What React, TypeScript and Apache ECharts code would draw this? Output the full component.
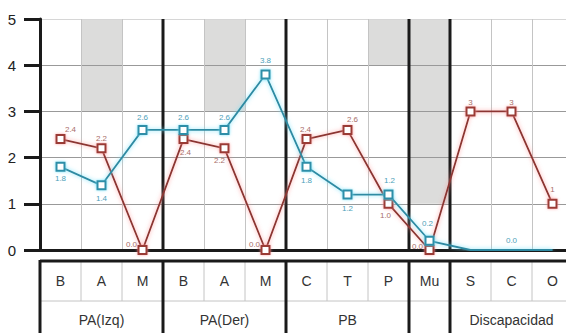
import React, { useEffect, useRef } from 'react';
import * as echarts from 'echarts';

const categories = ['B', 'A', 'M', 'B', 'A', 'M', 'C', 'T', 'P', 'Mu', 'S', 'C', 'O'];
const groupNames = ['PA(Izq)', 'PA(Der)', 'PB', '', 'Discapacidad'];
const groupSpans = [3, 3, 3, 1, 3];
const yTicks = [0, 1, 2, 3, 4, 5];
const redValues = [2.4, 2.2, 0, 2.4, 2.2, 0, 2.4, 2.6, 1.0, 0, 3, 3, 1];
const redLabels = ['2.4', '2.2', '0.0', '2.4', '2.2', '0.0', '2.4', '2.6', '1.0', '0.0', '3', '3', '1'];
const blueValues = [1.8, 1.4, 2.6, 2.6, 2.6, 3.8, 1.8, 1.2, 1.2, 0.2, 0, 0, 0];
const blueLabels = ['1.8', '1.4', '2.6', '2.6', '2.6', '3.8', '1.8', '1.2', '1.2', '0.2', '', '0.0', ''];
const shadedCols = [1, 4, 8, 9];
const shadedFrom = [3, 3, 4, 1];
const shadedTo = [5, 5, 5, 5];

// styling: label offsets relative to the marker centre
const redOffsets = [[10, -10], [0, -10], [-11, -6], [2, 13], [-5, 12], [-11, -6], [-1, -10], [5, -10], [-3, 12], [-12, -4], [0, -9], [0, -9], [0, -14]];
const blueOffsets = [[0, 12], [0, 13], [0, -12], [0, -12], [0, -12], [0, -14], [0, 14], [0, 14], [1, -14], [-2, -17], [0, 0], [0, -10], [0, 0]];
const blueHidden = [false, false, false, false, false, false, false, false, false, false, true, true, true];

const FONT = '"Liberation Sans", Arial, sans-serif';

export default function App() {
  const ref = useRef<HTMLDivElement>(null);
  useEffect(() => {
    if (!ref.current) return;
    const chart = echarts.init(ref.current, null, { renderer: 'svg' });
    const axisKeys = categories.map((c, i) => i + '_' + c);
    const groupData: number[][] = [];
    let s = 0;
    groupSpans.forEach((sp, gi) => {
      groupData.push([s, 0, s + sp, gi]);
      s += sp;
    });
    const groupStarts = groupData.map((g) => g[0]);
    const yMax = yTicks[yTicks.length - 1];

    const option: any = {
      animation: false,
      backgroundColor: '#ffffff',
      grid: { left: 40, top: 19, width: 533, height: 231, containLabel: false },
      xAxis: {
        type: 'category',
        data: axisKeys,
        boundaryGap: true,
        axisLine: { show: true, lineStyle: { color: '#1a1a1a', width: 3 } },
        axisTick: { show: false },
        axisLabel: { show: false },
        splitLine: { show: true, interval: 0, lineStyle: { color: '#c4c4c4', width: 1 } },
      },
      yAxis: {
        type: 'value',
        min: yTicks[0],
        max: yMax,
        interval: 1,
        axisLine: { show: true, lineStyle: { color: '#1a1a1a', width: 3 } },
        axisTick: { show: true, length: 16, lineStyle: { color: '#1a1a1a', width: 3 } },
        axisLabel: { show: true, margin: 24, fontSize: 15, color: '#222', fontFamily: FONT, padding: [0, 0, 7, 0] },
        splitLine: { show: true, lineStyle: { color: ['#999', '#999', '#999', '#999', '#999', '#d6d6d6'], width: 1 } },
      },
      series: [
        {
          type: 'custom',
          z: -1,
          clip: false,
          silent: true,
          data: shadedCols.map((c, i) => [c, shadedFrom[i], shadedTo[i]]),
          renderItem: (params: any, api: any) => {
            const idx = api.value(0);
            const p0 = api.coord([idx, api.value(2)]);
            const p1 = api.coord([idx, api.value(1)]);
            const bw = api.size([1, 0])[0];
            return {
              type: 'rect',
              shape: { x: p0[0] - bw / 2, y: p0[1], width: bw, height: p1[1] - p0[1] },
              style: { fill: '#dcdcdb' },
            };
          },
        },
        {
          type: 'custom',
          z: 3,
          clip: false,
          silent: true,
          data: categories.map((c, i) => [i, 0]),
          renderItem: (params: any, api: any) => {
            const idx = api.value(0);
            const p = api.coord([idx, 0]);
            const bw = api.size([1, 0])[0];
            const x0 = p[0] - bw / 2;
            const yb = p[1];
            const children: any[] = [
              {
                type: 'text',
                style: {
                  text: categories[params.dataIndex],
                  x: p[0],
                  y: yb + 31,
                  align: 'center',
                  verticalAlign: 'middle',
                  fontSize: 14,
                  fontFamily: FONT,
                  fill: '#333',
                },
              },
            ];
            if (groupStarts.indexOf(idx) < 0) {
              children.push({
                type: 'line',
                shape: { x1: x0, y1: yb + 11, x2: x0, y2: yb + 51 },
                style: { stroke: '#c4c4c4', lineWidth: 1 },
              });
            }
            return { type: 'group', children };
          },
        },
        {
          type: 'custom',
          z: 4,
          clip: false,
          silent: true,
          data: groupData,
          renderItem: (params: any, api: any) => {
            const st = api.value(0);
            const en = api.value(2);
            const bw = api.size([1, 0])[0];
            const pa = api.coord([st, 0]);
            const pb = api.coord([en - 1, 0]);
            const top = api.coord([st, yMax])[1];
            const x0 = pa[0] - bw / 2;
            const x1 = pb[0] + bw / 2;
            const yb = pa[1];
            const children: any[] = [
              {
                type: 'line',
                shape: { x1: x0, y1: yb + 11, x2: x1, y2: yb + 11 },
                style: { stroke: '#1a1a1a', lineWidth: 3 },
              },
              {
                type: 'line',
                shape: { x1: x0, y1: yb + 51, x2: x1, y2: yb + 51 },
                style: { stroke: '#c4c4c4', lineWidth: 1 },
              },
              {
                type: 'line',
                shape: { x1: x0, y1: yb + 10, x2: x0, y2: yb + 100 },
                style: { stroke: '#1a1a1a', lineWidth: 3 },
              },
              {
                type: 'text',
                style: {
                  text: groupNames[params.dataIndex],
                  x: (x0 + x1) / 2,
                  y: yb + 70,
                  align: 'center',
                  verticalAlign: 'middle',
                  fontSize: 14,
                  fontFamily: FONT,
                  fill: '#333',
                },
              },
            ];
            if (st > 0) {
              children.push({
                type: 'line',
                shape: { x1: x0, y1: top, x2: x0, y2: yb },
                style: { stroke: '#1a1a1a', lineWidth: 3 },
              });
            }
            return { type: 'group', children };
          },
        },
        {
          type: 'line',
          z: 5,
          symbol: 'emptyRect',
          symbolSize: 8,
          lineStyle: { color: '#8b3631', width: 1.8, shadowColor: 'rgba(255,140,140,0.8)', shadowBlur: 4 },
          itemStyle: { color: '#9a3a34', borderWidth: 1.5, shadowColor: 'rgba(255,140,140,0.8)', shadowBlur: 3 },
          label: { show: true, position: 'inside', fontSize: 8, color: '#a86e69', fontFamily: FONT },
          data: redValues.map((v, i) => ({
            value: v,
            label: { formatter: redLabels[i], offset: redOffsets[i] },
          })),
        },
        {
          type: 'line',
          z: 6,
          symbol: 'emptyRect',
          symbolSize: 8,
          lineStyle: { color: '#2e8aa2', width: 1.8, shadowColor: 'rgba(110,225,250,0.9)', shadowBlur: 4 },
          itemStyle: { color: '#2e8ea8', borderWidth: 1.5, shadowColor: 'rgba(110,225,250,0.9)', shadowBlur: 3 },
          label: { show: true, position: 'inside', fontSize: 8, color: '#4e9fba', fontFamily: FONT },
          data: blueValues.map((v, i) => ({
            value: v,
            symbolSize: blueHidden[i] ? 0 : 8,
            label: { show: blueLabels[i] !== '', formatter: blueLabels[i], offset: blueOffsets[i] },
          })),
        },
      ],
    };
    chart.setOption(option);
    return () => chart.dispose();
  }, []);
  return (
    <div style={{ position: 'fixed', left: 0, top: 0, width: 566, height: 333, overflow: 'hidden', background: '#fff' }}>
      <div ref={ref} style={{ width: 590, height: 333 }} />
    </div>
  );
}
